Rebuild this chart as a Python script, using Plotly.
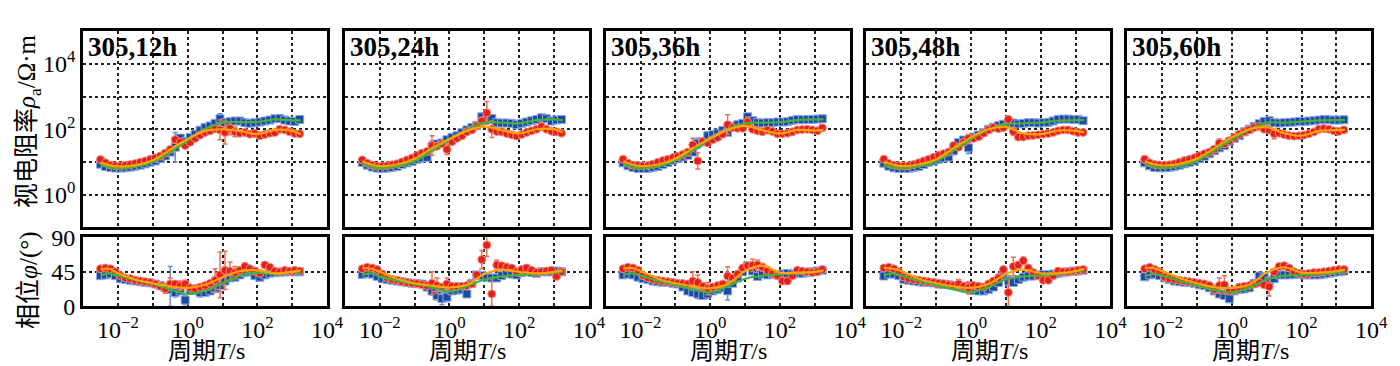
import plotly.graph_objects as go

# ---------------- data ----------------
PERIODS = [0.00316, 0.00439, 0.00611, 0.00848, 0.0118, 0.0164, 0.0228, 0.0316, 0.0439, 0.0611,
           0.0848, 0.118, 0.164, 0.228, 0.316, 0.439, 0.611, 0.848, 1.18, 1.64,
           2.28, 3.16, 4.39, 6.11, 8.48, 11.8, 16.4, 22.8, 31.6, 43.9,
           61.1, 84.8, 118, 164, 228, 316, 439, 611, 848, 1180, 1640]
FIT_PERIODS = [0.00316, 0.00562, 0.01, 0.0316, 0.1, 0.316, 1, 3.16, 10, 31.6, 100, 316, 1000, 1780]
PANEL_LABELS = ["305,12h", "305,24h", "305,36h", "305,48h", "305,60h"]
X_TICKS = [1e-2, 1, 1e2, 1e4]
X_TICK_TEXT = ["10<sup>−2</sup>", "10<sup>0</sup>", "10<sup>2</sup>", "10<sup>4</sup>"]
X_MINOR_GRID = [1e-1, 10, 1000]
RHO_TICKS = [1, 100, 10000]
RHO_TICK_TEXT = ["10<sup>0</sup>", "10<sup>2</sup>", "10<sup>4</sup>"]
RHO_MINOR_GRID = [10, 1000]
PHI_TICKS = [0, 45, 90]

# log10 of apparent resistivity (Ω·m); b = blue mode, r = red mode
logrho_b_12h = [0.93,0.86,0.83,0.81,0.81, 0.82,0.84,0.87,0.90,0.94, 0.99,1.03,1.10,1.18,1.30, 1.45,1.73,1.62,1.75,1.85, 1.97,2.05,2.10,2.18,2.32, 2.20,2.23,2.25,2.25,2.20, 2.18,2.20,2.22,2.25,2.28, 2.32,2.33,2.28,2.25,2.24, 2.30]
logrho_r_12h = [1.07,0.97,0.90,0.88,0.87, 0.90,0.92,0.95,0.99,1.03, 1.08,1.12,1.18,1.27,1.38, 1.68,1.60,1.50,1.60,1.72, 1.82,1.90,1.95,2.02,1.98, 1.90,2.03,1.92,1.88,1.90, 1.85,1.87,1.80,1.84,1.88, 1.90,2.00,1.98,1.92,1.87, 1.86]
err_rho_b_12h = [(15,0.45),(16,0.1),(17,0.08),(24,0.15)]
err_rho_r_12h = [(14,0.08),(15,0.1),(24,0.3),(25,0.35),(26,0.2),(27,0.15),(29,0.1),(31,0.1)]
fit_rho_b_12h = [0.90,0.84,0.80,0.85,1.00,1.30,1.65,2.00,2.20,2.22,2.22,2.30,2.27,2.27]
fit_rho_r_12h = [0.98,0.90,0.86,0.90,1.05,1.38,1.70,1.95,2.00,1.95,1.85,1.98,1.95,1.85]
phi_b_12h = [40,41,42.5,40,36, 35,34,33,32,31, 30.5,29,27,24,22, 18,20,8,22,21, 18,18,20,23,27, 33,37,38,41,44, 45,40,38,41,43, 44,44,45,45,45, 45]
phi_r_12h = [49,50,49,45,40, 37,36,34,33,32, 31,29,26,23,29, 29,27,29,24,23, 25,27,30,34,41, 47,46,44,47,52, 49,46,43,54,51, 46,45,47,46,47, 46]
err_phi_b_12h = [(14,30),(15,6),(17,6),(20,6),(21,5),(24,8)]
err_phi_r_12h = [(13,6),(14,8),(16,6),(17,5),(23,15),(24,30),(25,25),(26,12),(27,8),(29,5),(33,4)]
fit_phi_b_12h = [40,43,40,34,29,22,16,20,30,40,44,42,45,44]
fit_phi_r_12h = [48,49,43,35,30,26,24,28,38,46,47,43,45,47]

logrho_b_24h = [0.98,0.90,0.84,0.81,0.80, 0.81,0.83,0.86,0.92,0.97, 1.02,1.08,1.12,1.14,1.48, 1.55,1.58,1.68,1.75,1.80, 1.90,1.98,2.05,2.12,2.38, 2.30,2.33,2.20,2.19,2.19, 2.18,2.14,2.18,2.22,2.26, 2.30,2.35,2.32,2.25,2.28, 2.30]
logrho_r_24h = [1.06,0.96,0.90,0.87,0.87, 0.88,0.91,0.94,1.00,1.06, 1.12,1.20,1.27,1.32,1.50, 1.48,1.55,1.38,1.62,1.72, 1.80,1.92,1.98,2.10,2.25, 2.50,2.00,1.93,1.92,1.87, 1.83,1.79,1.84,1.90,1.95, 2.00,2.08,2.00,1.94,1.92, 1.88]
err_rho_b_24h = [(14,0.15),(15,0.1),(16,0.08),(24,0.1)]
err_rho_r_24h = [(14,0.3),(17,0.15),(24,0.12),(25,0.35),(26,0.25),(31,0.08)]
fit_rho_b_24h = [0.95,0.85,0.80,0.86,1.02,1.35,1.68,1.98,2.20,2.20,2.18,2.28,2.30,2.27]
fit_rho_r_24h = [1.02,0.92,0.87,0.92,1.10,1.42,1.70,1.95,2.08,1.97,1.87,2.00,2.00,1.90]
phi_b_24h = [41.6,43,42,39,36, 35,34,33,32,31, 30,29.5,29,25,20, 14,10,12,20,21, 22,16,30,41,40, 38,37,37,40,43, 42,41,44,46,44, 43,45,45,45,46, 45]
phi_r_24h = [49,51,50,48,42, 37,35,34,32,31, 30,29.5,28,27,30, 27,25,29,26,26, 26,27,29,41,61, 80,16,54,53,51, 50,45,48,50,47, 44,45,46,47,39, 45]
err_phi_b_24h = [(14,5),(15,6),(16,8),(17,6)]
err_phi_r_24h = [(14,15),(15,10),(17,8),(24,12),(25,15),(26,20),(27,6),(29,5),(33,4)]
fit_phi_b_24h = [41,43,39,33,29,25,19,26,35,39,41,42,44,45]
fit_phi_r_24h = [50,49,45,36,30,27,24.5,28,42,48,45,43,45,47]

logrho_b_36h = [0.97,0.88,0.83,0.80,0.80, 0.80,0.83,0.86,0.92,0.98, 1.05,1.10,1.15,1.20,1.30, 1.57,1.62,1.80,1.83,1.88, 1.96,1.90,2.08,2.14,2.18, 2.38,2.26,2.20,2.19,2.20, 2.20,2.22,2.22,2.23,2.27, 2.30,2.29,2.30,2.30,2.31, 2.32]
logrho_r_36h = [1.08,0.96,0.90,0.89,0.88, 0.89,0.93,0.99,1.04,1.08, 1.13,1.17,1.23,1.30,1.52, 1.03,1.62,1.58,1.68,1.75, 1.85,2.14,2.05,2.03,2.03, 2.22,2.00,1.95,1.92,1.97, 1.93,1.86,1.86,1.88,1.92, 1.98,1.99,2.00,1.98,1.95, 2.04]
err_rho_b_36h = [(15,0.15),(16,0.12),(17,0.1),(21,0.1)]
err_rho_r_36h = [(14,0.2),(15,0.25),(21,0.3),(25,0.15),(26,0.1),(28,0.06)]
fit_rho_b_36h = [0.93,0.85,0.80,0.85,1.05,1.35,1.70,2.00,2.18,2.20,2.22,2.28,2.30,2.30]
fit_rho_r_36h = [1.02,0.92,0.87,0.92,1.10,1.42,1.72,1.98,2.10,1.97,1.87,1.98,1.96,1.98]
phi_b_36h = [41,42,41,38,36, 35,33,32,31.5,31, 30,29,25,20,18, 16,14,16,20,22, 24,20,30,37,45, 53,46,39,42,41, 42,41,42,43,42, 43,43,44,45,46, 47]
phi_r_36h = [49,51,50,47,40, 37,35,34,33,32, 31,30,29.7,29,33, 31,26,23,25,27, 29,39.5,37,42,50, 53,53.5,54,51,47, 43,40,33,33,40, 47,46,45,44,45, 48]
err_phi_b_36h = [(15,6),(16,5),(17,6),(21,12)]
err_phi_r_36h = [(14,12),(15,10),(17,8),(21,12),(26,8),(27,6),(28,5)]
fit_phi_b_36h = [41,43,40,33,28,22,18,26,36,40,42,43,45,46]
fit_phi_r_36h = [49,50,46,36,30,26,23.5,29,46,53,44,44,45,47]

logrho_b_48h = [0.96,0.87,0.82,0.80,0.80, 0.80,0.83,0.86,0.92,0.99, 1.03,1.08,1.12,1.15,1.34, 1.59,1.67,1.43,1.76,1.82, 1.90,2.00,2.06,2.11,2.15, 2.18,2.19,2.16,2.18,2.20, 2.20,2.19,2.20,2.21,2.25, 2.30,2.31,2.31,2.30,2.30, 2.26]
logrho_r_48h = [1.08,0.95,0.90,0.88,0.87, 0.88,0.92,0.97,1.03,1.08, 1.14,1.20,1.25,1.30,1.50, 1.45,1.60,1.72,1.72,1.77, 1.88,1.98,2.05,2.02,2.05, 2.30,1.93,1.76,1.76,1.80, 1.81,1.83,1.85,1.87,1.90, 1.95,1.98,1.98,1.94,1.90, 1.90]
err_rho_b_48h = [(14,0.12),(15,0.1),(16,0.05),(17,0.17)]
err_rho_r_48h = [(14,0.06),(17,0.12),(25,0.1),(26,0.12),(27,0.1),(29,0.05)]
fit_rho_b_48h = [0.90,0.84,0.80,0.86,1.02,1.35,1.70,2.00,2.15,2.18,2.20,2.26,2.28,2.28]
fit_rho_r_48h = [1.00,0.92,0.87,0.92,1.08,1.42,1.75,2.00,2.07,1.87,1.85,1.96,1.95,1.90]
phi_b_48h = [39.5,42,42,40,35, 34,33,32,31.5,31, 30.5,29,28.5,28,27, 26,25,26,21,20, 20,22,25,31,40, 33,31,35,38,39.5, 39.5,41,41.5,41.5,42, 43,44,45,46,46, 47]
phi_r_48h = [50,51,49,45,38, 36,35,34,33,32, 31,30,29.5,28,27, 29,26,24,27,26, 25,29,33,37,48, 18,52,54,59.5,50, 44,40,34,34,40, 46,45,45,46,47, 48]
err_phi_b_48h = [(17,6),(18,5),(25,7)]
err_phi_r_48h = [(15,6),(17,8),(23,5),(25,18),(26,12),(28,5)]
fit_phi_b_48h = [40,43,40,33,28,22,18,25,35,39,40,42,45,47]
fit_phi_r_48h = [50,49,46,36,30,26,24,29,42,48,43,43,46,49]

logrho_b_60h = [0.97,0.88,0.83,0.82,0.82, 0.83,0.86,0.90,0.94,0.98, 1.03,1.10,1.17,1.25,1.34, 1.43,1.50,1.62,1.72,1.81, 1.92,2.00,2.08,2.17,2.24, 2.26,2.20,2.19,2.20,2.21, 2.22,2.24,2.24,2.25,2.26, 2.28,2.30,2.29,2.28,2.28, 2.29]
logrho_r_60h = [1.08,0.97,0.92,0.90,0.90, 0.91,0.94,0.99,1.04,1.08, 1.13,1.19,1.25,1.30,1.39, 1.58,1.55,1.65,1.75,1.85, 1.92,1.98,2.05,2.09,2.00, 1.98,1.86,1.88,1.84,1.80, 1.79,1.80,1.82,1.86,1.92, 2.00,2.02,2.00,1.95,1.93, 1.98]
err_rho_b_60h = [(15,0.05)]
err_rho_r_60h = [(14,0.08),(15,0.12),(26,0.15)]
fit_rho_b_60h = [0.92,0.85,0.81,0.87,1.03,1.35,1.68,1.98,2.20,2.20,2.23,2.27,2.28,2.28]
fit_rho_r_60h = [1.02,0.93,0.89,0.94,1.10,1.42,1.75,2.00,2.06,1.88,1.80,1.95,1.97,1.98]
phi_b_60h = [38.5,41,42,40,37, 35,33,32,31.5,31, 30,28,27,24,20, 16,14,9.8,20,22, 22.5,24,30,39.5,38, 33,36,41,41,41, 41.5,42,41,41,41, 41,42,43,44,45, 46]
phi_r_60h = [49,51,48,45,38, 36,35,34,33,32, 31,30,29,27,22, 27,28,20,21,25, 26,27,29,31,28, 25.5,45,52,53,50, 45,43,42,43,44, 44,45,46,47,48, 48]
err_phi_b_60h = [(16,4),(17,5)]
err_phi_r_60h = [(14,5),(15,10),(16,12),(25,12)]
fit_phi_b_60h = [39,42,40,33,27,21,18,24,35,40,41,42,44,46]
fit_phi_r_60h = [50,50,46,37,30,25,24,28,44,51,44,44,46,48]

PANELS = [
    (logrho_b_12h, logrho_r_12h, err_rho_b_12h, err_rho_r_12h, fit_rho_b_12h, fit_rho_r_12h,
     phi_b_12h, phi_r_12h, err_phi_b_12h, err_phi_r_12h, fit_phi_b_12h, fit_phi_r_12h),
    (logrho_b_24h, logrho_r_24h, err_rho_b_24h, err_rho_r_24h, fit_rho_b_24h, fit_rho_r_24h,
     phi_b_24h, phi_r_24h, err_phi_b_24h, err_phi_r_24h, fit_phi_b_24h, fit_phi_r_24h),
    (logrho_b_36h, logrho_r_36h, err_rho_b_36h, err_rho_r_36h, fit_rho_b_36h, fit_rho_r_36h,
     phi_b_36h, phi_r_36h, err_phi_b_36h, err_phi_r_36h, fit_phi_b_36h, fit_phi_r_36h),
    (logrho_b_48h, logrho_r_48h, err_rho_b_48h, err_rho_r_48h, fit_rho_b_48h, fit_rho_r_48h,
     phi_b_48h, phi_r_48h, err_phi_b_48h, err_phi_r_48h, fit_phi_b_48h, fit_phi_r_48h),
    (logrho_b_60h, logrho_r_60h, err_rho_b_60h, err_rho_r_60h, fit_rho_b_60h, fit_rho_r_60h,
     phi_b_60h, phi_r_60h, err_phi_b_60h, err_phi_r_60h, fit_phi_b_60h, fit_phi_r_60h),
]

# ---------------- style ----------------
W, H = 1400, 366
FONT = "Liberation Serif, Noto Sans CJK SC, serif"
BLUE, BLUE_EDGE, BLUE_ERR = "#1c4aa0", "#8aa9e6", "#6a8bd6"
RED, RED_EDGE, RED_ERR = "#e5201c", "#f58a7a", "#ef6f50"
GREEN, ORANGE = "#45b03a", "#ffa400"
LEFTS = [76, 341, 605, 869, 1133]
PW = 247
TOP_Y = (11, 222)
BOT_Y = (233, 307)
GRID = dict(showgrid=True, gridcolor="#222", gridwidth=1.5, griddash="dot")
FRAME = dict(showline=True, linecolor="black", linewidth=3, mirror=True, zeroline=False, ticks="")
TICKFONT = dict(family=FONT, size=24, color="black")


def ydom(a, b):
    return [1 - b / H, 1 - a / H]


def minor_grid(vals):
    return dict(tickmode="array", tickvals=vals, ticks="", showgrid=True,
                gridcolor="#222", gridwidth=1.5, griddash="dot")


fig = go.Figure()
layout = {}


def err_arrays(vals, errs, logscale):
    plus = [None] * len(vals)
    minus = [None] * len(vals)
    for k, e in errs:
        v = vals[k]
        if logscale:
            plus[k] = 10 ** (v + e) - 10 ** v
            minus[k] = 10 ** v - 10 ** (v - e)
        else:
            plus[k] = e
            minus[k] = min(e, v)
    return plus, minus


for c, p in enumerate(PANELS):
    (rb, rr, erb, err, frb, frr, pb, pr, epb, epr, fpb, fpr) = p
    nt, nb = 2 * c + 1, 2 * c + 2
    xt, yt = f"x{nt}", f"y{nt}"
    xb, yb = f"x{nb}", f"y{nb}"
    xdom = [LEFTS[c] / W, (LEFTS[c] + PW) / W]

    for (vals, errs, col, edge, ecol, sym) in [(rb, erb, BLUE, BLUE_EDGE, BLUE_ERR, "square"),
                                               (rr, err, RED, RED_EDGE, RED_ERR, "circle")]:
        pl, mi = err_arrays(vals, errs, True)
        fig.add_trace(go.Scatter(
            x=PERIODS, y=[10 ** v for v in vals], mode="markers", xaxis=xt, yaxis=yt,
            marker=dict(symbol=sym, size=8, color=col, line=dict(color=edge, width=1)),
            error_y=dict(type="data", symmetric=False, array=pl, arrayminus=mi,
                         color=ecol, thickness=1.5, width=2.5),
            showlegend=False, hoverinfo="skip"))
    for (vals, col) in [(frb, GREEN), (frr, ORANGE)]:
        fig.add_trace(go.Scatter(
            x=FIT_PERIODS, y=[10 ** v for v in vals], mode="lines", xaxis=xt, yaxis=yt,
            line=dict(color=col, width=2.2, shape="spline", smoothing=1.0),
            showlegend=False, hoverinfo="skip"))

    for (vals, errs, col, edge, ecol, sym) in [(pb, epb, BLUE, BLUE_EDGE, BLUE_ERR, "square"),
                                               (pr, epr, RED, RED_EDGE, RED_ERR, "circle")]:
        pl, mi = err_arrays(vals, errs, False)
        fig.add_trace(go.Scatter(
            x=PERIODS, y=vals, mode="markers", xaxis=xb, yaxis=yb,
            marker=dict(symbol=sym, size=8, color=col, line=dict(color=edge, width=1)),
            error_y=dict(type="data", symmetric=False, array=pl, arrayminus=mi,
                         color=ecol, thickness=1.5, width=2.5),
            showlegend=False, hoverinfo="skip"))
    for (vals, col) in [(fpb, GREEN), (fpr, ORANGE)]:
        fig.add_trace(go.Scatter(
            x=FIT_PERIODS, y=vals, mode="lines", xaxis=xb, yaxis=yb,
            line=dict(color=col, width=2.2, shape="spline", smoothing=1.0),
            showlegend=False, hoverinfo="skip"))

    common_x = dict(type="log", range=[-3, 4], domain=xdom, tickmode="array",
                    tickvals=X_TICKS, ticktext=X_TICK_TEXT, minor=minor_grid(X_MINOR_GRID),
                    tickfont=TICKFONT, **GRID, **FRAME)
    layout[f"xaxis{nt}"] = dict(common_x, anchor=yt, showticklabels=False)
    layout[f"xaxis{nb}"] = dict(common_x, anchor=yb, showticklabels=True)
    layout[f"yaxis{nt}"] = dict(type="log", range=[-1, 5], domain=ydom(*TOP_Y), anchor=xt,
                                tickmode="array", tickvals=RHO_TICKS, ticktext=RHO_TICK_TEXT,
                                minor=minor_grid(RHO_MINOR_GRID),
                                showticklabels=(c == 0), tickfont=TICKFONT, **GRID, **FRAME)
    layout[f"yaxis{nb}"] = dict(range=[0, 90], domain=ydom(*BOT_Y), anchor=xb,
                                tickmode="array", tickvals=PHI_TICKS,
                                showticklabels=(c == 0), tickfont=TICKFONT, **GRID, **FRAME)

annotations = []
for c, lab in enumerate(PANEL_LABELS):
    annotations.append(dict(text=f"<b>{lab}</b>", xref="paper", yref="paper",
                            x=(LEFTS[c] + 3) / W, y=1 - 28 / H, xanchor="left", yanchor="middle",
                            showarrow=False, font=dict(family=FONT, size=27, color="black")))
    annotations.append(dict(text="周期<i>T</i>/s", xref="paper", yref="paper",
                            x=(LEFTS[c] + PW / 2 + 1) / W, y=1 - 355 / H, xanchor="center",
                            yanchor="middle", showarrow=False,
                            font=dict(family=FONT, size=24, color="black")))
annotations.append(dict(text="视电阻率<i>ρ</i><sub>a</sub>/Ω·m", xref="paper", yref="paper",
                        x=21 / W, y=1 - 108 / H, xanchor="center", yanchor="middle",
                        textangle=-90, showarrow=False,
                        font=dict(family=FONT, size=25, color="black")))
annotations.append(dict(text="相位<i>φ</i>/(°)", xref="paper", yref="paper",
                        x=21 / W, y=1 - 279 / H, xanchor="center", yanchor="middle",
                        textangle=-90, showarrow=False,
                        font=dict(family=FONT, size=25, color="black")))

fig.update_layout(width=W, height=H, margin=dict(l=0, r=0, t=0, b=0),
                  paper_bgcolor="white", plot_bgcolor="white",
                  showlegend=False, annotations=annotations, **layout)

fig.write_html("out.html")
